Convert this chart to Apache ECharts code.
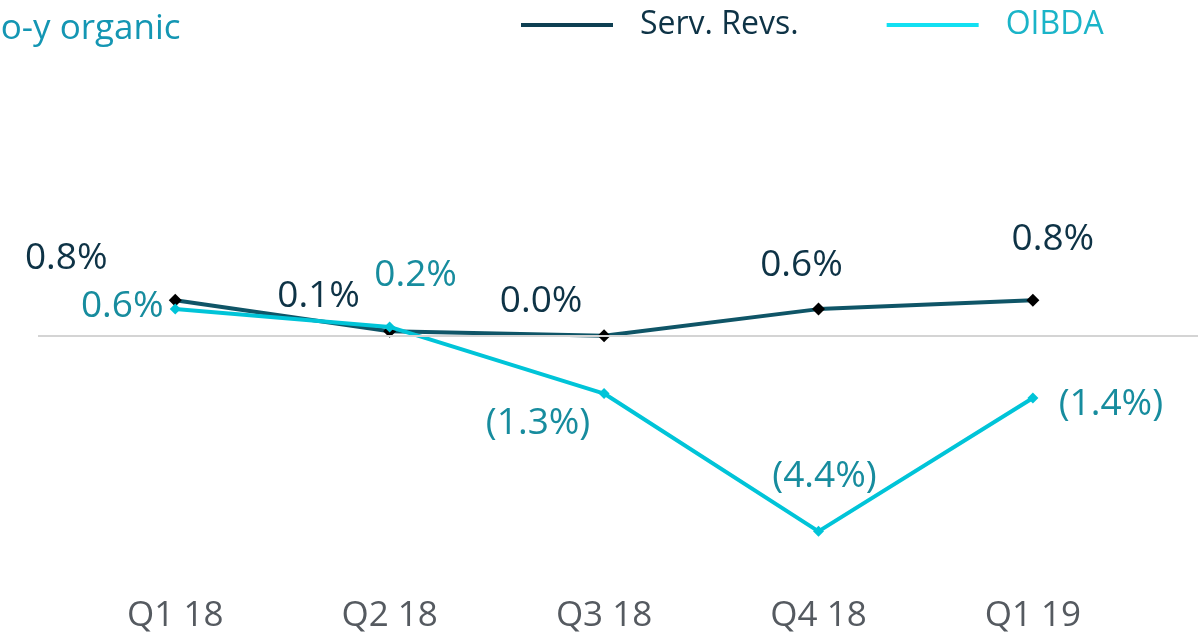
<!DOCTYPE html>
<html>
<head>
<meta charset="utf-8">
<title>y-o-y organic</title>
<script src="https://cdn.jsdelivr.net/npm/echarts@6/dist/echarts.min.js"></script>
<style>
  html, body { margin: 0; padding: 0; background: #fff; }
  #chart-container { width: 1201px; height: 635px; }
</style>
</head>
<body>
<div id="chart-container"></div>
<script>
var categories = ["Q1 18", "Q2 18", "Q3 18", "Q4 18", "Q1 19"];
var servRevs = [0.8, 0.1, 0.0, 0.6, 0.8];
var oibda = [0.6, 0.2, -1.3, -4.4, -1.4];

// label nudges so the numbers sit where the slide had them
var servLabelOffsets = [[-109, -42], [-71, -35], [-63, -34], [-17, -44], [20, -61]];
var oibdaLabelOffsets = [[-53, -3], [26, -51], [-66, 30], [6, -55], [78, 6]];

var dom = document.getElementById("chart-container");
var myChart = echarts.init(dom, null, { renderer: "canvas" });

function pct(v) {
  var s = Math.abs(v).toFixed(1) + "%";
  return v < 0 ? "(" + s + ")" : s;
}

function points(values, offsets, color) {
  return values.map(function (v, i) {
    return {
      value: [i, v],
      label: { offset: offsets[i], color: color },
    };
  });
}

var font = "'Open Sans', 'Noto Sans', sans-serif";

var option = {
  animation: false,
  title: {
    text: "y-o-y organic",
    left: -33,
    top: 7,
    textStyle: { fontFamily: font, fontSize: 35, fontWeight: "normal", color: "#1496b3" },
  },
  legend: {
    left: 516,
    top: 4,
    icon: "rect",
    itemWidth: 92,
    itemHeight: 4,
    itemGap: 88,
    textStyle: { fontFamily: font, fontSize: 32, padding: [0, 0, 0, 22] },
    data: [
      { name: "Serv. Revs.", itemStyle: { color: "#0e3f52" }, textStyle: { color: "#0e3346" } },
      { name: "OIBDA", itemStyle: { color: "#12e0f2" }, textStyle: { color: "#1ab4c8" } },
    ],
  },
  grid: { left: 38, right: 3, top: 158, bottom: 77 },
  xAxis: {
    type: "value",
    min: -0.64,
    max: 4.77,
    axisLine: { show: false },
    axisTick: { show: false },
    splitLine: { show: false },
    axisLabel: {
      customValues: [0, 1, 2, 3, 4],
      formatter: function (v) { return categories[v]; },
      margin: 41,
      fontFamily: font,
      fontSize: 35,
      color: "#555a60",
    },
  },
  yAxis: {
    type: "value",
    min: -5,
    max: 4,
    show: false,
  },
  series: [
    {
      name: "Serv. Revs.",
      type: "line",
      data: points(servRevs, servLabelOffsets, "#0e3346"),
      symbol: "diamond",
      symbolSize: 13,
      itemStyle: { color: "#000" },
      lineStyle: { color: "#0f5567", width: 4 },
      label: {
        show: true,
        position: "inside",
        formatter: function (p) { return pct(p.value[1]); },
        fontFamily: font,
        fontSize: 37,
      },
      markLine: {
        silent: true,
        symbol: "none",
        label: { show: false },
        lineStyle: { color: "#d4d4d4", width: 2, type: "solid" },
        data: [{ yAxis: 0 }],
      },
      z: 2,
    },
    {
      name: "OIBDA",
      type: "line",
      data: points(oibda, oibdaLabelOffsets, "#178c9e"),
      symbol: "diamond",
      symbolSize: 11,
      itemStyle: { color: "#00c4d8" },
      lineStyle: { color: "#00c4d8", width: 4 },
      label: {
        show: true,
        position: "inside",
        formatter: function (p) { return pct(p.value[1]); },
        fontFamily: font,
        fontSize: 37,
      },
      z: 3,
    },
  ],
};

myChart.setOption(option);
window.addEventListener("resize", myChart.resize);
</script>
</body>
</html>
